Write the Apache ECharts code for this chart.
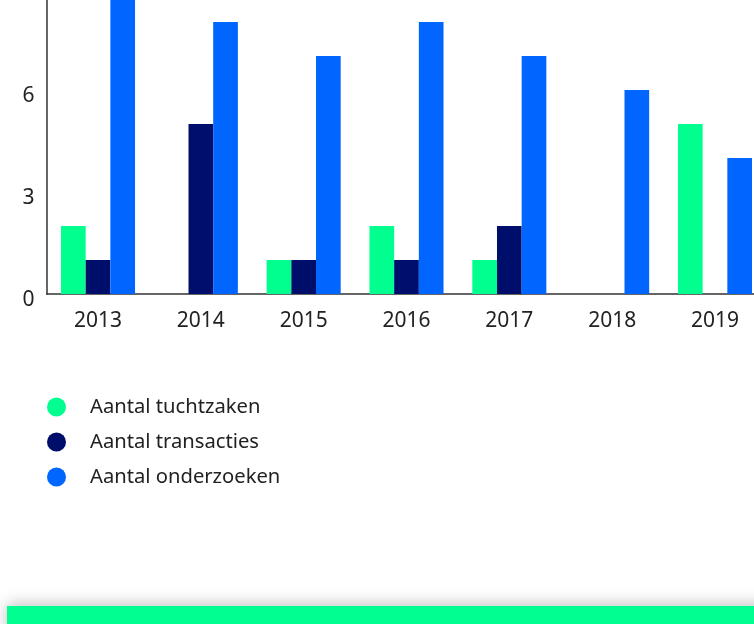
<!DOCTYPE html>
<html>
<head>
<meta charset="utf-8">
<style>
html,body{margin:0;padding:0;background:#fff;overflow:hidden;width:754px;height:624px;}
#c{position:absolute;left:0;top:-40px;width:790px;height:664px;}
</style>
<script src="https://cdn.jsdelivr.net/npm/echarts@6/dist/echarts.min.js"></script>
</head>
<body>
<div id="c"></div>
<script>
const years = ['2013','2014','2015','2016','2017','2018','2019'];
const tuchtzaken = [2,0,1,2,1,0,5];
const transacties = [1,5,1,1,2,0,0];
const onderzoeken = [9,8,7,8,7,6,4];
const yTicks = [0,3,6,9];

const chart = echarts.init(document.getElementById('c'));
const font = '"Noto Sans", Lato, sans-serif';
chart.setOption({
  animation:false,
  grid:{left:46.6, right:23.6, top:28, bottom:330, containLabel:false},
  legend:{
    orient:'vertical', left:42, top:432,
    itemWidth:19, itemHeight:19, itemGap:15, icon:'circle',
    textStyle:{fontFamily:font, fontSize:20.2, color:'#222', padding:[0,0,0,19]},
    data:['Aantal tuchtzaken','Aantal transacties','Aantal onderzoeken']
  },
  xAxis:{
    type:'category', data:years,
    axisLine:{show:true, lineStyle:{color:'#333', width:1.5}},
    axisTick:{show:false},
    axisLabel:{fontFamily:font, fontSize:21, color:'#222', margin:17}
  },
  yAxis:{
    type:'value', min:0, max:9, interval:3,
    axisLine:{show:true, lineStyle:{color:'#333', width:1.5}},
    axisTick:{show:false},
    splitLine:{show:false},
    axisLabel:{fontFamily:font, fontSize:21, color:'#222', margin:12, verticalAlign:'top', lineHeight:13,
      formatter:v=> yTicks.includes(v)? String(v):''}
  },
  series:[
    {name:'Aantal tuchtzaken', type:'bar', data:tuchtzaken, itemStyle:{color:'#00FF8F'}, barGap:'0%', barCategoryGap:'28%'},
    {name:'Aantal transacties', type:'bar', data:transacties, itemStyle:{color:'#000E6B'}, barGap:'0%', barCategoryGap:'28%'},
    {name:'Aantal onderzoeken', type:'bar', data:onderzoeken, itemStyle:{color:'#0066FF'}, barGap:'0%', barCategoryGap:'28%'}
  ],
  graphic:[{
    type:'rect', shape:{x:7, y:646, width:800, height:40},
    style:{fill:'#00FF90', shadowBlur:16, shadowColor:'rgba(0,0,0,0.25)', shadowOffsetY:-2}
  }]
});
</script>
</body>
</html>
